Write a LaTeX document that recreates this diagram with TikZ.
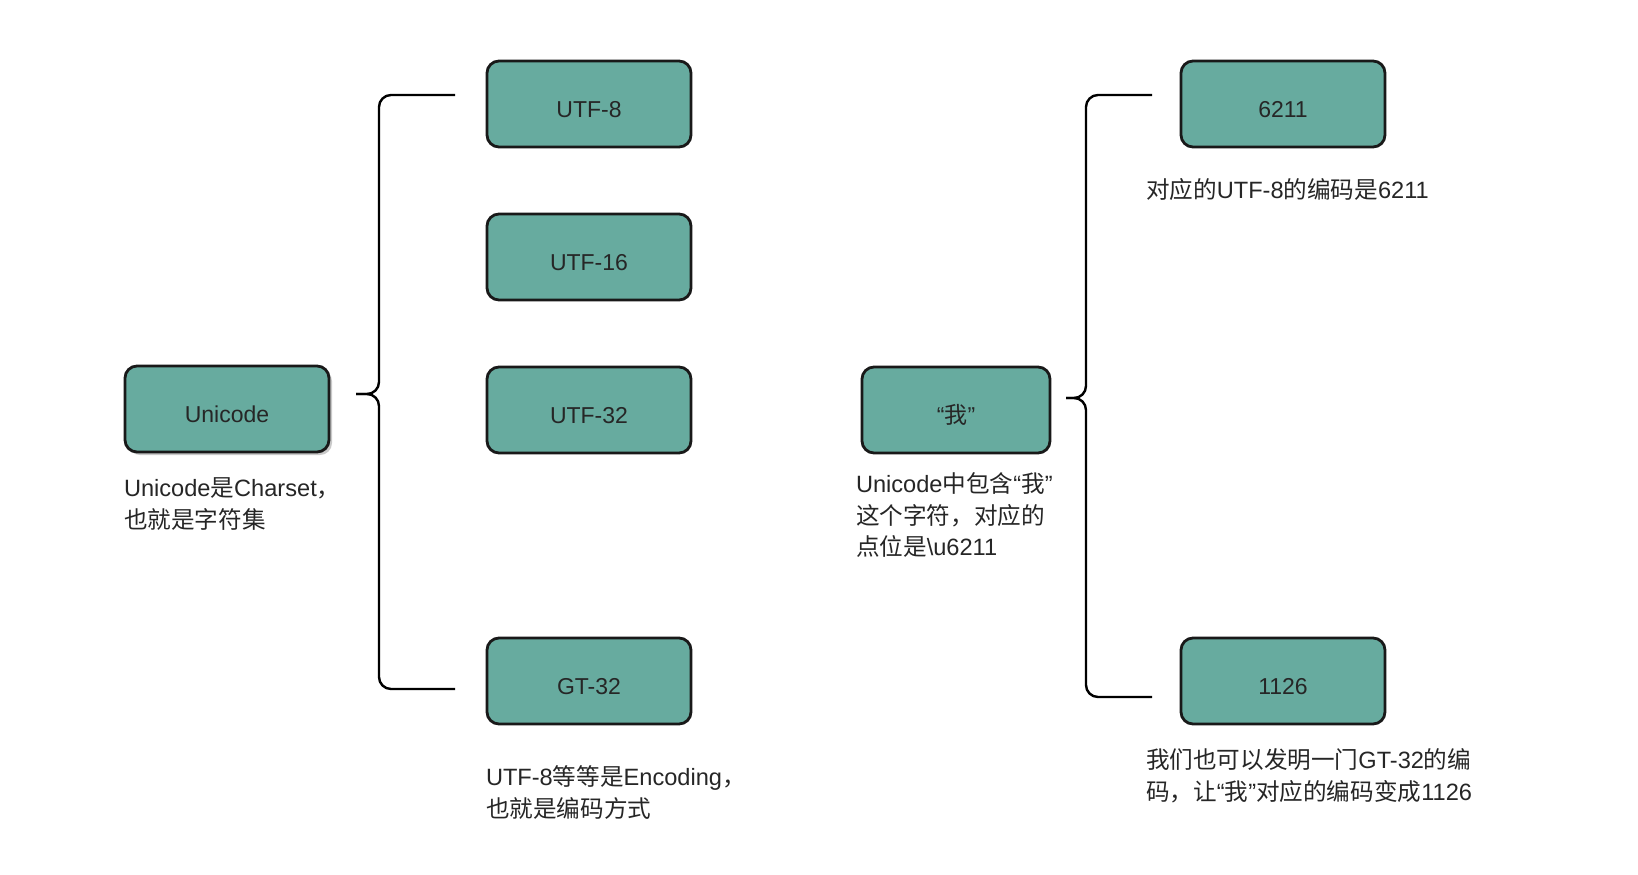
\documentclass[tikz,border=0pt]{standalone}
\usepackage{fontspec}
\setmainfont{Liberation Sans}
\newfontfamily\cjk{Noto Sans CJK SC}
\newcommand\zh[1]{{\cjk #1}}
\usetikzlibrary{positioning,shadows}
\definecolor{boxcolor}{HTML}{67AB9F}
\definecolor{inkcolor}{RGB}{38,38,38}

\begin{document}
\begin{tikzpicture}[x=0.5pt,y=-0.5pt,
    code/.style={rectangle, draw=black!90, line width=1.4pt, fill=boxcolor, rounded corners=6pt, minimum width=102pt, minimum height=43pt, text height=13.2pt, text depth=0pt, text=inkcolor, font=\fontsize{11.5}{14}\selectfont},
    note/.style={anchor=north west, inner sep=0pt, align=left, text=inkcolor, font=\fontsize{11.8}{15.8}\selectfont},
    brace/.style={line width=1.2pt, rounded corners=6pt}
]
\useasboundingbox[fill=white] (0,0) rectangle (1638,874);

% charset side
\node[code, drop shadow={shadow xshift=1.5pt, shadow yshift=-1.5pt, fill=black!35, opacity=0.6}] (unicode) at (227,409) {Unicode};
\node[note, below=12pt of unicode.south west, anchor=north west] (unicodenote) {Unicode\zh{是}Charset\zh{，}\\\zh{也就是字符集}};

\node[code] (utf8) at (589,104) {UTF-8};
\node[code] (utf16) at (589,257) {UTF-16};
\node[code] (utf32) at (589,410) {UTF-32};
\node[code] (gt32) at (589,681) {GT-32};
\node[note, below=20pt of gt32.south west, anchor=north west] (encnote) {UTF-8\zh{等等是}Encoding\zh{，}\\\zh{也就是编码方式}};

\coordinate (lbtop) at (455,95);
\coordinate (lbmid) at (379,394);
\coordinate (lbtip) at (356,394);
\coordinate (lbbot) at (455,689);
\draw[brace] (lbtop) -| (lbmid) -- (lbtip);
\draw[brace] (lbtip) -- (lbmid) |- (lbbot);

% code point side
\node[code, minimum width=94pt] (wo) at (956,410) {“\zh{我}”};
\node[note, below=9pt of wo.south west, anchor=north west, xshift=-2.5pt] (wonote) {Unicode\zh{中包含}“\zh{我}”\\\zh{这个字符，对应的}\\\zh{点位是}\textbackslash u6211};

\node[code] (c6211) at (1283,104) {6211};
\node[note, below=15pt of c6211.south west, anchor=north west, xshift=-17pt] (c6211note) {\zh{对应的}UTF-8\zh{的编码是}6211};
\node[code] (c1126) at (1283,681) {1126};
\node[note, below=11.5pt of c1126.south west, anchor=north west, xshift=-17pt] (c1126note) {\zh{我们也可以发明一门}GT-32\zh{的编}\\\zh{码，让}“\zh{我}”\zh{对应的编码变成}1126};

\coordinate (rbtop) at (1152,95);
\coordinate (rbmid) at (1086,398);
\coordinate (rbtip) at (1066,398);
\coordinate (rbbot) at (1152,697);
\draw[brace] (rbtop) -| (rbmid) -- (rbtip);
\draw[brace] (rbtip) -- (rbmid) |- (rbbot);
\end{tikzpicture}
\end{document}
